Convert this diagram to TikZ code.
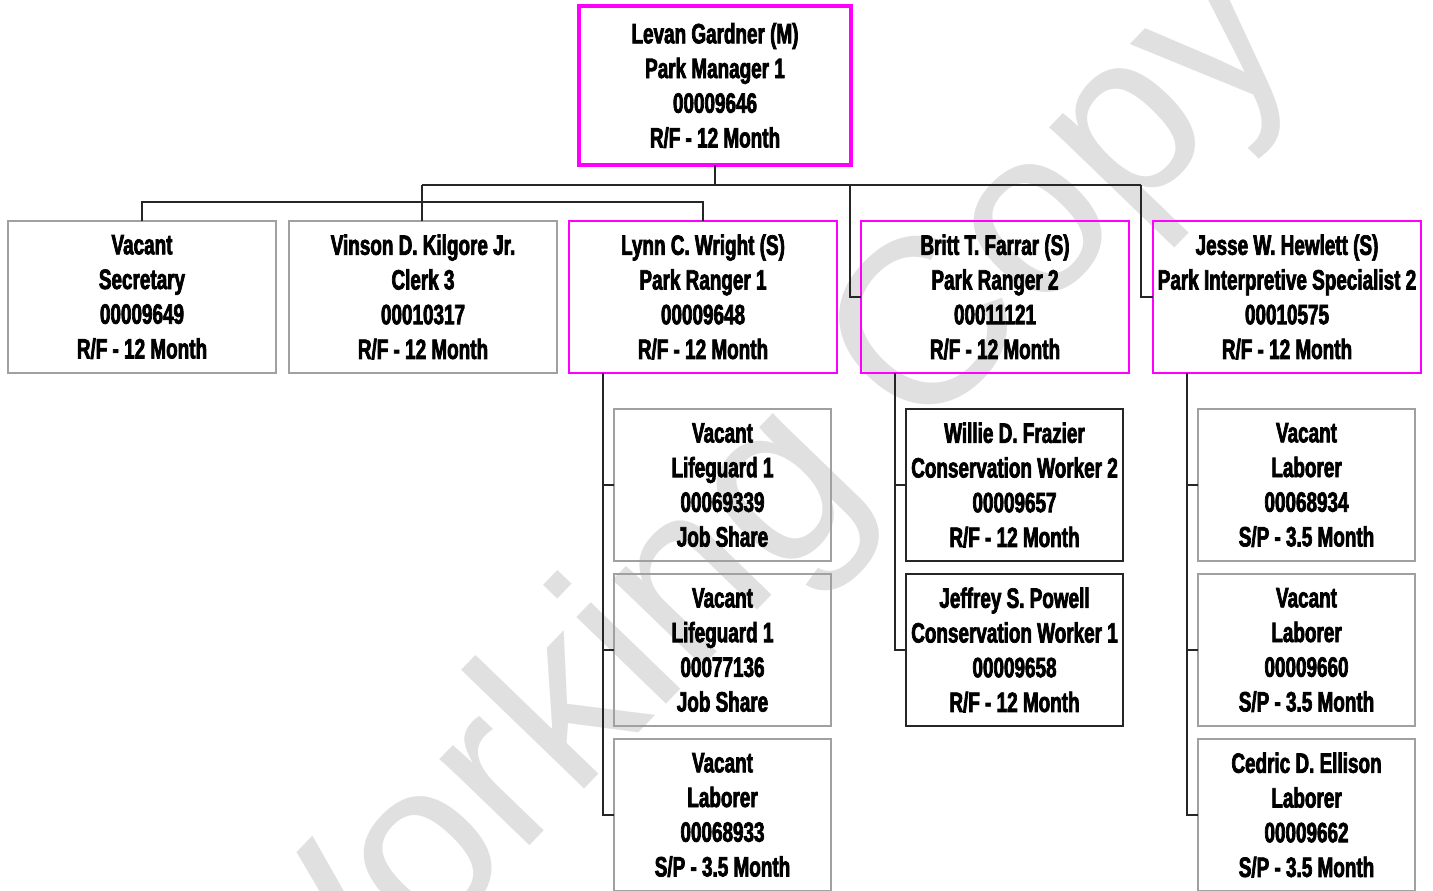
\documentclass[tikz,border=0pt]{standalone}
\usepackage{fontspec}
\setmainfont{Liberation Sans}
\newfontfamily\boxfont{Liberation Sans Bold}[FakeStretch=0.675,FakeBold=2.5]
\newfontfamily\wmfont{Liberation Sans}
\definecolor{mag}{HTML}{FF00FF}
\definecolor{bordergray}{HTML}{A0A0A0}
\definecolor{wmgray}{HTML}{E0E0E0}
\begin{document}
\begin{tikzpicture}[x=0.5pt,y=-0.5pt,
  every node/.style={inner sep=0pt,outer sep=0pt},
  posbox/.style={draw=bordergray,line width=0.75pt,minimum width=134pt,minimum height=76pt,align=center,
    font=\boxfont\fontsize{14}{17.35}\selectfont},
  supbox/.style={posbox,draw=mag},
  topbox/.style={posbox,draw=mag,line width=2.2pt,minimum width=136pt,minimum height=79.5pt},
  kidbox/.style={posbox,minimum width=108.5pt},
  darkbox/.style={kidbox,draw=black!85},
  link/.style={draw=black!85,line width=0.75pt},
  watermark/.style={text=wmgray,font=\wmfont\fontsize{118}{118}\selectfont}
]
\useasboundingbox (0,0) rectangle (1433,890);
\clip (0,0) rectangle (1433,890);
\node[watermark,rotate=46] (wm) at (745,535) {Working Copy};

\node[topbox] (top) at (715,85.5) {Levan Gardner (M)\\Park Manager 1\\00009646\\R/F - 12 Month};

\node[posbox] (sec) at (142,297) {Vacant\\Secretary\\00009649\\R/F - 12 Month};
\node[posbox] (vin) at (423,297) {Vinson D. Kilgore Jr.\\Clerk 3\\00010317\\R/F - 12 Month};
\node[supbox] (lynn) at (703,297) {Lynn C. Wright (S)\\Park Ranger 1\\00009648\\R/F - 12 Month};
\node[supbox] (britt) at (995,297) {Britt T. Farrar (S)\\Park Ranger 2\\00011121\\R/F - 12 Month};
\node[supbox] (jesse) at (1287,297) {Jesse W. Hewlett (S)\\Park Interpretive Specialist 2\\00010575\\R/F - 12 Month};

\node[kidbox] (l1) at (722.5,485) {Vacant\\Lifeguard 1\\00069339\\Job Share};
\node[kidbox] (l2) at (722.5,650) {Vacant\\Lifeguard 1\\00077136\\Job Share};
\node[kidbox] (l3) at (722.5,815) {Vacant\\Laborer\\00068933\\S/P - 3.5 Month};

\node[darkbox] (b1) at (1014.5,485) {Willie D. Frazier\\Conservation Worker 2\\00009657\\R/F - 12 Month};
\node[darkbox] (b2) at (1014.5,650) {Jeffrey S. Powell\\Conservation Worker 1\\00009658\\R/F - 12 Month};

\node[kidbox] (j1) at (1306.5,485) {Vacant\\Laborer\\00068934\\S/P - 3.5 Month};
\node[kidbox] (j2) at (1306.5,650) {Vacant\\Laborer\\00009660\\S/P - 3.5 Month};
\node[kidbox] (j3) at (1306.5,815) {Cedric D. Ellison\\Laborer\\00009662\\S/P - 3.5 Month};

% connectors
\coordinate (busL) at (422,185);
\coordinate (busR) at (1141,185);
\coordinate (busB) at (850,185);
\coordinate (sub) at (703,202);
\coordinate (lv) at (603,0);
\coordinate (bv) at (895,0);
\coordinate (jv) at (1187,0);

\draw[link] (busL) -- (busR);
\draw[link] (top.south) -- (top.south |- busL);
\draw[link] (busL) -- (busL |- vin.north);
\draw[link] (sec.north) |- (sub) -- (lynn.north);
\draw[link] (busB) |- (britt.west);
\draw[link] (busR) |- (jesse.west);

\draw[link] (lynn.south -| lv) |- (l3.west);
\draw[link] (lv |- l1.west) -- (l1.west);
\draw[link] (lv |- l2.west) -- (l2.west);

\draw[link] (britt.south -| bv) |- (b2.west);
\draw[link] (bv |- b1.west) -- (b1.west);

\draw[link] (jesse.south -| jv) |- (j3.west);
\draw[link] (jv |- j1.west) -- (j1.west);
\draw[link] (jv |- j2.west) -- (j2.west);
\end{tikzpicture}
\end{document}
